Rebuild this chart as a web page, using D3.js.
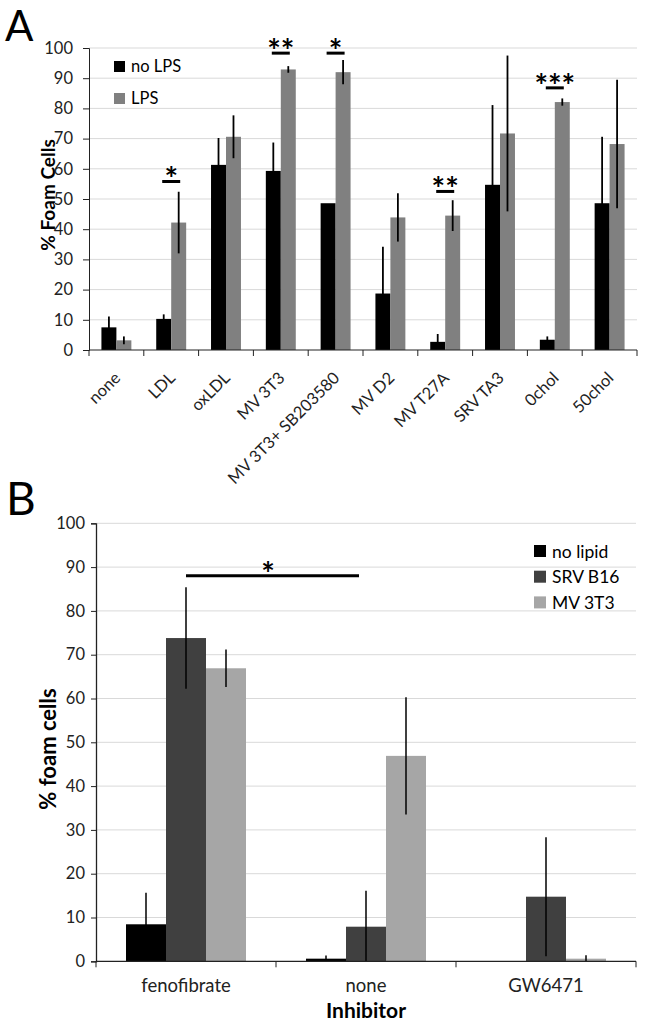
<!DOCTYPE html>
<html><head><meta charset="utf-8">
<script src="https://cdn.jsdelivr.net/npm/d3@7"></script>
<style>body{margin:0;background:#fff}svg{display:block}text{font-family:Lato,"Open Sans",sans-serif}</style>
</head><body>
<svg id="c" width="646" height="1027"></svg>
<script>
// Panel A data
const catsA = ["none","LDL","oxLDL","MV 3T3","MV 3T3+ SB203580","MV D2","MV T27A","SRV TA3","0chol","50chol"];
const seriesA = ["no LPS","LPS"];
const noLPS    = [7.5,10.3,61.3,59.3,48.6,18.7,2.7,54.7,3.4,48.6];
const noLPSErr = [3.6,1.5,8.9,9.4,0,15.5,2.6,26.4,1.1,22.0];
const lps      = [3.2,42.2,70.6,92.9,92.0,43.9,44.5,71.7,82.1,68.2];
const lpsErr   = [1.3,10.2,7.1,1.1,4.0,8.0,5.1,25.8,1.2,21.3];
const sigCatsA = ["LDL","MV 3T3","MV 3T3+ SB203580","MV T27A","0chol"];
const sigLabelsA = ["*","**","*","**","***"];
const sigLevelsA = [55.8,98.3,98.3,52.5,86.8];
const ticksA = [0,10,20,30,40,50,60,70,80,90,100];

// Panel B data
const catsB = ["fenofibrate","none","GW6471"];
const seriesB = ["no lipid","SRV B16","MV 3T3"];
const noLipid    = [8.45,0.6,0];
const noLipidErr = [7.2,0.7,0];
const srvB16     = [73.8,7.9,14.75];
const srvB16Err  = [11.6,8.2,13.6];
const mv3t3      = [66.9,46.9,0.6];
const mv3t3Err   = [4.3,13.4,0.8];
const sigB = {from:"fenofibrate", to:"none", label:"*", level:88};
const ticksB = [0,10,20,30,40,50,60,70,80,90,100];

const svg = d3.select("#c");
const gridCol = "#d9d9d9", axisCol = "#222", tickTxt = "#222";

// ---------- Panel A ----------
{
  const L=89, R=637, T=48, B=350;
  const x = d3.scaleBand().domain(catsA).range([L,R]).padding(0);
  const xs = d3.scaleBand().domain(seriesA).range([0,x.bandwidth()]).paddingInner(0).paddingOuter(0.83);
  const y = d3.scaleLinear().domain([0,100]).range([B,T]);
  const colA = d3.scaleOrdinal().domain(seriesA).range(["#000000","#808080"]);
  const g = svg.append("g");
  g.append("text").attr("x",5).attr("y",41).attr("font-size",42).attr("font-family","Liberation Sans, Arial").text("A");
  g.selectAll(".grid").data(ticksA.slice(1)).join("line")
    .attr("x1",L).attr("x2",R).attr("y1",d=>y(d)).attr("y2",d=>y(d)).attr("stroke",gridCol);
  const ya = g.append("g").attr("transform",`translate(${L},0)`).call(d3.axisLeft(y).tickValues(ticksA).tickSize(6).tickPadding(10));
  ya.select(".domain").attr("stroke",axisCol);
  ya.selectAll(".tick line").attr("stroke",axisCol);
  ya.selectAll("text").attr("font-size",16.5).attr("fill",tickTxt).attr("font-family","Lato");
  const rows = catsA.map((c,i)=>({c, vals:[{s:"no LPS",v:noLPS[i],e:noLPSErr[i]},{s:"LPS",v:lps[i],e:lpsErr[i]}]}));
  const cg = g.selectAll(".cat").data(rows).join("g").attr("transform",d=>`translate(${x(d.c)},0)`);
  cg.selectAll("rect").data(d=>d.vals).join("rect")
    .attr("x",d=>xs(d.s)).attr("width",xs.bandwidth())
    .attr("y",d=>y(d.v)).attr("height",d=>y(0)-y(d.v)).attr("fill",d=>colA(d.s));
  cg.selectAll(".err").data(d=>d.vals.filter(v=>v.e>0)).join("line")
    .attr("x1",d=>xs(d.s)+xs.bandwidth()/2).attr("x2",d=>xs(d.s)+xs.bandwidth()/2)
    .attr("y1",d=>y(d.v-d.e)).attr("y2",d=>y(d.v+d.e)).attr("stroke","#000").attr("stroke-width",1.8);
  // x axis
  const xa = g.append("g").attr("transform",`translate(0,${B})`);
  xa.append("line").attr("x1",L).attr("x2",R).attr("stroke",axisCol);
  xa.selectAll(".tk").data(catsA.map(c=>x(c)).concat([R])).join("line")
    .attr("x1",d=>d).attr("x2",d=>d).attr("y1",0).attr("y2",6).attr("stroke",axisCol);
  g.selectAll(".xl").data(catsA).join("text")
    .attr("transform",d=>`translate(${x(d)+x.bandwidth()/2+5},${B+29}) rotate(-45)`)
    .attr("text-anchor","end").attr("font-size",16.5).attr("fill",tickTxt).text(d=>d);
  // y title
  g.append("text").attr("transform",`translate(55,195) rotate(-90)`).attr("text-anchor","middle")
    .attr("font-size",19).attr("font-weight","bold").text("% Foam Cells");
  // legend
  const lg = g.selectAll(".lg").data(seriesA).join("g").attr("transform",(d,i)=>`translate(114,${61+i*32})`);
  lg.append("rect").attr("width",11).attr("height",11).attr("fill",d=>colA(d));
  lg.append("text").attr("x",17).attr("y",11).attr("font-size",16.5).text(d=>d);
  // significance
  sigCatsA.forEach((c,i)=>{
    const cx = x(c)+x.bandwidth()/2, yy = y(sigLevelsA[i]);
    g.append("line").attr("x1",cx-9).attr("x2",cx+9).attr("y1",yy).attr("y2",yy).attr("stroke","#000").attr("stroke-width",3);
    g.append("text").attr("x",cx).attr("y",yy+10).attr("text-anchor","middle").attr("font-size",32).attr("font-weight","bold").text(sigLabelsA[i]);
  });
}

// ---------- Panel B ----------
{
  const L=96, R=636, T=523.3, B=961.3;
  const x = d3.scaleBand().domain(catsB).range([L,R]).padding(0);
  const xs = d3.scaleBand().domain(seriesB).range([0,x.bandwidth()]).paddingInner(0).paddingOuter(0.75);
  const y = d3.scaleLinear().domain([0,100]).range([B,T]);
  const colB = d3.scaleOrdinal().domain(seriesB).range(["#000000","#404040","#a6a6a6"]);
  const g = svg.append("g");
  g.append("text").attr("x",6).attr("y",515).attr("font-size",46).attr("font-family","Liberation Sans, Arial").text("B");
  g.selectAll(".grid").data(ticksB.slice(1)).join("line")
    .attr("x1",L).attr("x2",R).attr("y1",d=>y(d)).attr("y2",d=>y(d)).attr("stroke",gridCol);
  const ya = g.append("g").attr("transform",`translate(${L},0)`).call(d3.axisLeft(y).tickValues(ticksB).tickSize(5).tickPadding(6));
  ya.select(".domain").attr("stroke",axisCol).attr("stroke-width",1.3);
  ya.selectAll(".tick line").attr("stroke",axisCol);
  ya.selectAll("text").attr("font-size",16.5).attr("fill",tickTxt).attr("font-family","Lato");
  const rows = catsB.map((c,i)=>({c, vals:[
    {s:"no lipid",v:noLipid[i],e:noLipidErr[i]},
    {s:"SRV B16",v:srvB16[i],e:srvB16Err[i]},
    {s:"MV 3T3",v:mv3t3[i],e:mv3t3Err[i]}]}));
  const cg = g.selectAll(".cat").data(rows).join("g").attr("transform",d=>`translate(${x(d.c)},0)`);
  cg.selectAll("rect").data(d=>d.vals.filter(v=>v.v>0)).join("rect")
    .attr("x",d=>xs(d.s)).attr("width",xs.bandwidth())
    .attr("y",d=>y(d.v)).attr("height",d=>y(0)-y(d.v)).attr("fill",d=>colB(d.s));
  cg.selectAll(".err").data(d=>d.vals.filter(v=>v.e>0)).join("line")
    .attr("x1",d=>xs(d.s)+xs.bandwidth()/2).attr("x2",d=>xs(d.s)+xs.bandwidth()/2)
    .attr("y1",d=>Math.min(y(0),y(d.v-d.e))).attr("y2",d=>y(d.v+d.e)).attr("stroke","#000").attr("stroke-width",1.5);
  const xa = g.append("g").attr("transform",`translate(0,${B})`);
  xa.append("line").attr("x1",L).attr("x2",R).attr("stroke",axisCol).attr("stroke-width",1.3);
  xa.selectAll(".tk").data(catsB.map(c=>x(c)).concat([R])).join("line")
    .attr("x1",d=>d).attr("x2",d=>d).attr("y1",0).attr("y2",6).attr("stroke",axisCol);
  g.selectAll(".xl").data(catsB).join("text")
    .attr("x",d=>x(d)+x.bandwidth()/2).attr("y",B+31).attr("text-anchor","middle")
    .attr("font-size",18.5).attr("fill",tickTxt).text(d=>d);
  g.append("text").attr("x",(L+R)/2).attr("y",B+57).attr("text-anchor","middle")
    .attr("font-size",21).attr("font-weight","bold").text("Inhibitor");
  g.append("text").attr("transform",`translate(56,749) rotate(-90)`).attr("text-anchor","middle")
    .attr("font-size",22).attr("font-weight","bold").text("% foam cells");
  const lg = g.selectAll(".lg").data(seriesB).join("g").attr("transform",(d,i)=>`translate(534,${545+i*25.7})`);
  lg.append("rect").attr("width",12).attr("height",12).attr("fill",d=>colB(d));
  lg.append("text").attr("x",18).attr("y",12.5).attr("font-size",17.5).text(d=>d);
  const x1 = x(sigB.from)+x.bandwidth()/2, x2 = x(sigB.to)+x.bandwidth()/2 - 7, yy = y(sigB.level);
  g.append("line").attr("x1",x1).attr("x2",x2).attr("y1",yy).attr("y2",yy).attr("stroke","#000").attr("stroke-width",3);
  g.append("text").attr("x",268).attr("y",yy+10).attr("text-anchor","middle").attr("font-size",32).attr("font-weight","bold").text(sigB.label);
}
</script>
</body></html>
